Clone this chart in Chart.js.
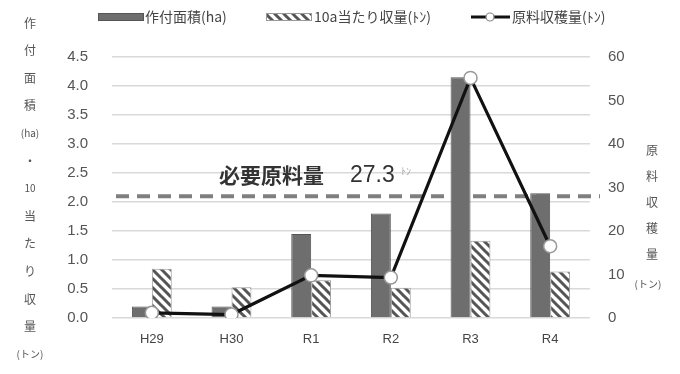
<!DOCTYPE html>
<html><head><meta charset="utf-8">
<script src="https://cdn.jsdelivr.net/npm/chart.js@4"></script>
<style>html,body{margin:0;padding:0;background:#fff;}#wrap{width:680px;height:374px;position:relative;}</style>
</head><body><div id="wrap"><canvas id="c" width="680" height="374"></canvas></div>
<script>
const categories = ['H29','H30','R1','R2','R3','R4'];
const areaHa = [0.2, 0.2, 1.45, 1.8, 4.15, 2.15];
const yield10a = [0.85, 0.53, 0.65, 0.52, 1.33, 0.8];
const harvestTon = [1.2, 0.8, 9.8, 9.3, 55.2, 16.5];
const requiredTon = 27.3;
const leftTicks = [0,0.5,1,1.5,2,2.5,3,3.5,4,4.5];
const rightTicks = [0,10,20,30,40,50,60];
const leftTitle = ['作','付','面','積','(ha)','・','10','当','た','り','収','量','(トン)'];
const rightTitle = ['原','料','収','穫','量','(トン)'];
const legendLabels = ['作付面積(ha)','10a当たり収量(ﾄﾝ)','原料収穫量(ﾄﾝ)'];

const FONT = "'Liberation Sans','Noto Sans CJK JP',sans-serif";
const JFONT = "'Noto Sans CJK JP','Liberation Sans',sans-serif";

function hatch(){
  const s = 9;
  const p = document.createElement('canvas'); p.width = s; p.height = s;
  const g = p.getContext('2d');
  g.fillStyle = '#fff'; g.fillRect(0,0,s,s);
  g.strokeStyle = '#555'; g.lineWidth = 3; g.lineCap = 'square';
  g.beginPath();
  g.moveTo(-2,-2); g.lineTo(s+2,s+2);
  g.moveTo(-2,s-2); g.lineTo(2,s+2);
  g.moveTo(s-2,-2); g.lineTo(s+2,2);
  g.stroke();
  return document.getElementById('c').getContext('2d').createPattern(p,'repeat');
}
const hatchPat = hatch();

const overlay = {
  id:'overlay',
  beforeDatasetsDraw(chart){
    const ctx = chart.ctx, a = chart.chartArea, y2 = chart.scales.y2;
    const yy = y2.getPixelForValue(requiredTon) - 3;
    ctx.save();
    ctx.strokeStyle = '#7f7f7f'; ctx.lineWidth = 4; ctx.setLineDash([13,8]);
    ctx.beginPath(); ctx.moveTo(a.left+4, yy); ctx.lineTo(a.right+10, yy); ctx.stroke();
    ctx.setLineDash([]);
    ctx.fillStyle = '#333'; ctx.textBaseline = 'middle';
    ctx.font = "bold 21px " + JFONT; ctx.textAlign = 'left';
    ctx.fillText('必要原料量', 219, yy-21);
    ctx.font = "23px " + FONT;
    ctx.fillText(String(requiredTon), 350, yy-21);
    ctx.fillStyle = '#aaa'; ctx.font = "10px " + JFONT;
    ctx.fillText('ﾄﾝ', 401, yy-25);
    ctx.restore();
  },
  afterDraw(chart){
    const ctx = chart.ctx;
    ctx.save();
    ctx.fillStyle = '#555'; ctx.textAlign = 'center'; ctx.textBaseline = 'middle';
    leftTitle.forEach((t,i)=>{
      ctx.font = ((t.length>1)? "10px ":"12px ") + JFONT;
      ctx.fillText(t, 30, 23 + i*27.6);
    });
    rightTitle.forEach((t,i)=>{ ctx.font = (i===5? "10px ":"12px ") + JFONT; ctx.fillText(t, i===5?648:652, 150 + i*26 + (i===5?4:0)); });
    const ly = 17;
    ctx.font = "14px " + JFONT; ctx.textAlign = 'left';
    ctx.fillStyle = '#6e6e6e'; ctx.fillRect(98, ly-4, 46, 8);
    ctx.strokeStyle='#555'; ctx.lineWidth=1; ctx.strokeRect(98.5, ly-3.5, 45, 7);
    ctx.fillStyle = '#444'; ctx.fillText(legendLabels[0], 145, ly);
    ctx.fillStyle = hatchPat; ctx.fillRect(266, ly-4, 46, 8);
    ctx.strokeStyle='#999'; ctx.strokeRect(266.5, ly-3.5, 45, 7);
    ctx.fillStyle = '#444'; ctx.fillText(legendLabels[1], 314, ly);
    ctx.strokeStyle = '#111'; ctx.lineWidth = 3; ctx.beginPath(); ctx.moveTo(471, ly); ctx.lineTo(510, ly); ctx.stroke();
    ctx.beginPath(); ctx.arc(490, ly, 4, 0, Math.PI*2); ctx.fillStyle='#fff'; ctx.fill(); ctx.lineWidth=1.2; ctx.strokeStyle='#888'; ctx.stroke();
    ctx.fillStyle = '#444'; ctx.fillText(legendLabels[2], 512, ly);
    ctx.restore();
  }
};

new Chart(document.getElementById('c'), {
  data: {
    labels: categories,
    datasets: [
      { type:'line', label: legendLabels[2], data: harvestTon, yAxisID:'y2', order:0,
        borderColor:'#111', borderWidth:3.2, pointRadius:6.5, pointBackgroundColor:'#fff',
        pointBorderColor:'#999', pointBorderWidth:1.5, tension:0 },
      { type:'bar', label: legendLabels[0], data: areaHa, yAxisID:'y', order:1,
        backgroundColor:'#6e6e6e', borderColor:'#555', borderWidth:1,
        categoryPercentage:0.5, barPercentage:1.0 },
      { type:'bar', label: legendLabels[1], data: yield10a, yAxisID:'y', order:2,
        backgroundColor: hatchPat, borderColor:'#999', borderWidth:1,
        categoryPercentage:0.5, barPercentage:1.0 }
    ]
  },
  options: {
    responsive:false, animation:false, devicePixelRatio:1,
    layout:{ padding:{ top:57, bottom:0, left:0, right:0 } },
    plugins:{ legend:{display:false}, tooltip:{enabled:false}, title:{display:false} },
    scales:{
      x:{ grid:{display:false, drawTicks:false}, border:{display:false},
          ticks:{ color:'#444', font:{family:FONT, size:13}, padding:14 },
          afterFit(s){ s.height = 56; } },
      y:{ position:'left', min:0, max:4.5,
          afterBuildTicks(s){ s.ticks = leftTicks.map(v=>({value:v})); },
          ticks:{ color:'#555', font:{family:FONT, size:15}, padding:24,
                  callback:(v)=>Number(v).toFixed(1) },
          grid:{ color:'#d9d9d9', lineWidth:1.5, drawTicks:false }, border:{display:false},
          afterFit(s){ s.width = 112; } },
      y2:{ position:'right', min:0, max:60,
          afterBuildTicks(s){ s.ticks = rightTicks.map(v=>({value:v})); },
          ticks:{ color:'#555', font:{family:FONT, size:15}, padding:18 },
          grid:{ display:false, drawTicks:false }, border:{display:false},
          afterFit(s){ s.width = 90; } }
    }
  },
  plugins:[overlay]
});
</script></body></html>
